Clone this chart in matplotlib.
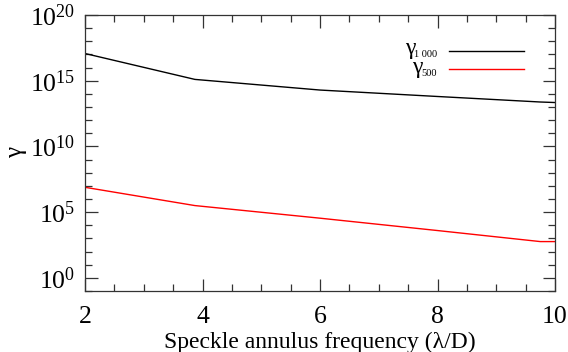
import matplotlib
matplotlib.use("Agg")
import matplotlib.pyplot as plt
import numpy as np
from matplotlib.ticker import FixedLocator, FixedFormatter, MultipleLocator

plt.rcParams['font.family'] = ['Liberation Serif', 'DejaVu Serif']
plt.rcParams['mathtext.fontset'] = 'custom'
plt.rcParams['mathtext.rm'] = 'Liberation Serif'
plt.rcParams['mathtext.it'] = 'Liberation Serif:italic'
plt.rcParams['mathtext.bf'] = 'Liberation Serif:bold'

freq = [2.0, 3.87, 6.0, 8.0, 9.75, 10.0]
gamma_1000_exp = [17.07, 15.1, 14.29, 13.8, 13.38, 13.34]
gamma_500_exp = [6.89, 5.5, 4.54, 3.6, 2.76, 2.76]
x_ticks = [2, 4, 6, 8, 10]
y_major_exp = [0, 5, 10, 15, 20]
series_subscripts = ['1 000', '500']

W, H = 568, 352
fig = plt.figure(figsize=(W/100, H/100), dpi=100)
ax = fig.add_axes([85/W, 1-291/H, 470/W, 276/H])

l1, = ax.plot(freq, 10.0**np.array(gamma_1000_exp), color='black', lw=1.0)
l2, = ax.plot(freq, 10.0**np.array(gamma_500_exp), color='red', lw=1.0)

ax.set_yscale('log')
ax.set_xlim(2, 10)
ax.set_ylim(1e-1, 1e20)
ax.yaxis.set_major_locator(FixedLocator([10.0**e for e in y_major_exp]))
ax.yaxis.set_major_formatter(FixedFormatter([r'$\mathrm{10}^{%d}$' % e for e in y_major_exp]))
ax.yaxis.set_minor_locator(FixedLocator([10.0**e for e in range(-1, 21)]))
ax.yaxis.set_minor_formatter(FixedFormatter([]))
ax.set_xticks(x_ticks)
ax.set_xticklabels([str(v) for v in x_ticks])
ax.xaxis.set_minor_locator(MultipleLocator(0.5))

ax.tick_params(which='both', direction='in', top=True, right=True,
               labelsize=18.5, width=0.9, color='#333333')
ax.tick_params(which='major', length=9)
ax.tick_params(axis='x', which='major', pad=11)
ax.tick_params(axis='y', which='major', pad=7)
ax.tick_params(which='minor', length=5)
for s in ax.spines.values():
    s.set_linewidth(0.9)
    s.set_color('#333333')

ax.set_xlabel('Speckle annulus frequency (λ/D)', fontsize=17)
ax.xaxis.set_label_coords(0.5, -(348-291)/276)
ax.xaxis.label.set_va('baseline')
ax.set_ylabel('γ', fontsize=18)
ax.yaxis.set_label_coords(-(85-27)/470, (291-152)/276)

fs_leg = 10
px = fs_leg * 100 / 72
leg = ax.legend([l1, l2], ['', ''], loc='upper right',
                bbox_to_anchor=(524/W, 1-(51-px*0.35)/H),
                bbox_transform=fig.transFigure, frameon=False,
                markerfirst=False, fontsize=fs_leg, handlelength=75/px,
                labelspacing=0.35, handletextpad=0,
                borderpad=0, borderaxespad=0)

# legend labels: gamma with small subscripts
for (yb, xg, sub) in zip([54, 73], [415, 422], series_subscripts):
    fig.text(xg/W, 1-yb/H, 'γ', fontsize=17, ha='right', va='baseline')
    fig.text(437/W, 1-(yb+3)/H, sub, fontsize=7.5, ha='right', va='baseline')

fig.savefig('out.png', dpi=100)
